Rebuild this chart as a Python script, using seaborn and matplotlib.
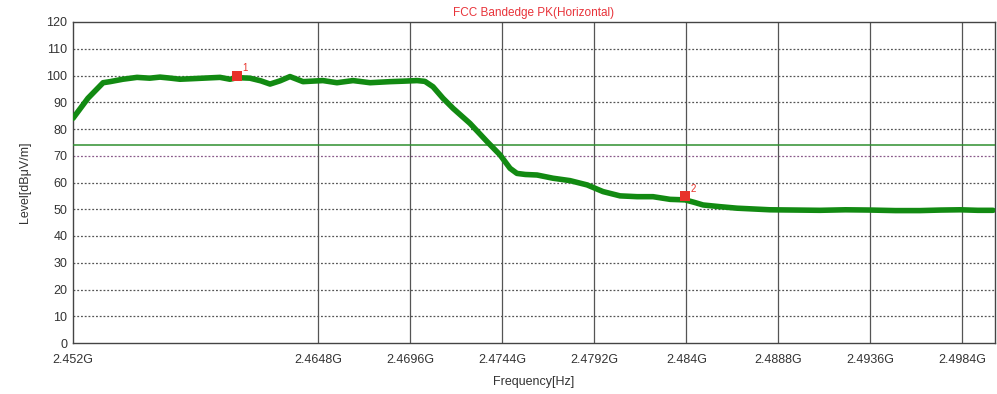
import numpy as np
import pandas as pd
import matplotlib
matplotlib.use("Agg")
import matplotlib.pyplot as plt
import seaborn as sns

# ---- data ----
freq_ghz = [2.4520, 2.45278, 2.45357, 2.45393, 2.45460, 2.45534, 2.45600, 2.45654,
            2.45710, 2.45758, 2.45820, 2.45878, 2.45967, 2.46019, 2.46056, 2.46123,
            2.46180, 2.46228, 2.46280, 2.46332, 2.46400, 2.46450, 2.46504, 2.46577,
            2.46661, 2.46750, 2.46854, 2.46930, 2.46995, 2.47036, 2.47078, 2.47130,
            2.47183, 2.47271, 2.47360, 2.47428, 2.47480, 2.47516, 2.47560, 2.47621,
            2.47704, 2.47793, 2.47882, 2.47965, 2.48054, 2.48143, 2.48226, 2.48315,
            2.48393, 2.48440, 2.48487, 2.48570, 2.48664, 2.48750, 2.48836, 2.48970,
            2.49097, 2.49230, 2.49358, 2.49490, 2.49619, 2.49728, 2.49828, 2.49920,
            2.50000]
level_dbuv = [84.0, 91.5, 97.3, 97.7, 98.6, 99.3, 99.0, 99.4,
              99.0, 98.6, 98.8, 99.0, 99.3, 98.6, 99.2, 99.0,
              98.0, 96.8, 98.0, 99.6, 97.7, 97.9, 98.1, 97.3,
              98.1, 97.3, 97.7, 97.9, 98.1, 97.8, 95.8, 91.5,
              87.7, 82.1, 75.3, 70.3, 65.3, 63.4, 63.0, 62.8,
              61.6, 60.7, 59.1, 56.6, 55.0, 54.7, 54.7, 53.7,
              53.5, 52.6, 51.6, 51.0, 50.4, 50.1, 49.8, 49.7,
              49.6, 49.8, 49.7, 49.5, 49.5, 49.7, 49.8, 49.6,
              49.6]

marker_freq = [2.46056, 2.48393]
marker_level = [100.0, 55.0]
marker_labels = ["1", "2"]

limit_level = 74.0
x_ticks = [2.452, 2.4648, 2.4696, 2.4744, 2.4792, 2.484, 2.4888, 2.4936, 2.4984]
x_tick_labels = ["2.452G", "2.4648G", "2.4696G", "2.4744G", "2.4792G",
                 "2.484G", "2.4888G", "2.4936G", "2.4984G"]
y_ticks = list(range(0, 121, 10))

title = "FCC Bandedge PK(Horizontal)"
x_label = "Frequency[Hz]"
y_label = "Level[dB\u03bcV/m]"

# ---- plotting ----
sns.set_theme(style="white")
plt.rcParams['font.family'] = ['Liberation Sans', 'DejaVu Sans']

fig = plt.figure(figsize=(9.97, 3.94), dpi=100)
ax = fig.add_axes([73 / 997, 51 / 394, 922 / 997, 321 / 394])

trace = pd.DataFrame({"freq": freq_ghz, "level": level_dbuv})
sns.lineplot(data=trace, x="freq", y="level", ax=ax, color="#128a12",
             linewidth=4.0, solid_joinstyle="round", solid_capstyle="round",
             zorder=4)

ax.axhline(limit_level, color="#2f8f2f", linewidth=1.1, zorder=3)

mk = pd.DataFrame({"freq": marker_freq, "level": marker_level})
sns.scatterplot(data=mk, x="freq", y="level", ax=ax, marker="s", s=45,
                color="#e8322a", edgecolor="#e8322a", linewidth=0, zorder=6)
for f, l, t in zip(marker_freq, marker_level, marker_labels):
    ax.annotate(t, (f, l), xytext=(4, 3), textcoords="offset points",
                color="#e8322a", fontsize=7, zorder=7)

ax.set_xlim(2.452, 2.5001)
ax.set_ylim(0, 120)
ax.set_xticks(x_ticks)
ax.set_xticklabels(x_tick_labels)
ax.set_yticks(y_ticks)

# grid: dotted horizontals, solid verticals
for y in y_ticks[1:-1]:
    col = "#8a5a8a" if y == 70 else "#555555"
    ax.axhline(y, color=col, linestyle=(0, (1.5, 1.5)), linewidth=0.9, zorder=1)
for x in x_ticks[1:]:
    ax.axvline(x, color="#555555", linewidth=0.9, zorder=1)

for s in ax.spines.values():
    s.set_color("#444444")
    s.set_linewidth(1.0)

ax.tick_params(axis="y", labelsize=9, colors="#333333", length=0, pad=4)
ax.tick_params(axis="x", labelsize=9, colors="#333333", length=0, pad=8)
ax.set_xlabel(x_label, fontsize=9, color="#333333", labelpad=7)
ax.set_ylabel(y_label, fontsize=9, color="#333333", labelpad=11)
ax.set_title(title, fontsize=8.5, color="#e8333a", pad=4)

fig.savefig("out.png", dpi=100)
